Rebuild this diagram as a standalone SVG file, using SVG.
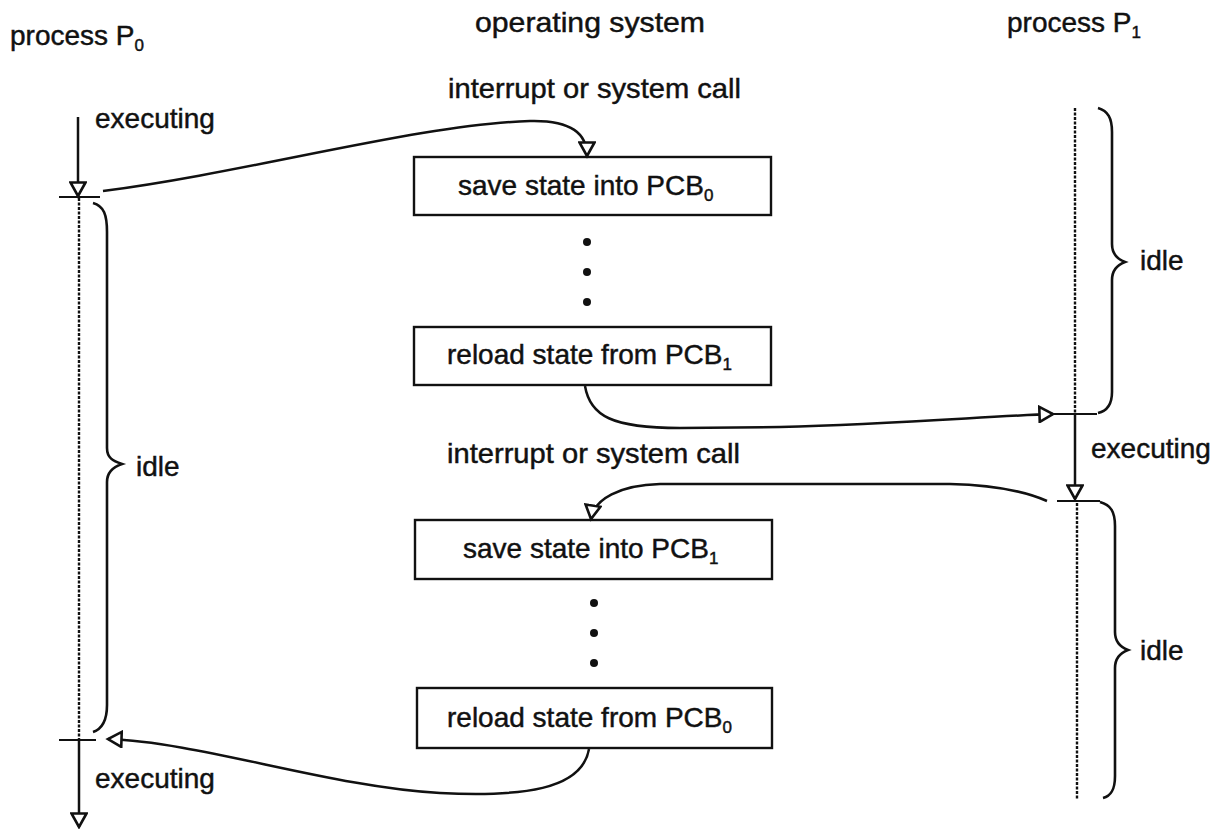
<svg xmlns="http://www.w3.org/2000/svg" width="1220" height="829" viewBox="0 0 1220 829">
  <style>
    text { font-family: "Liberation Sans", Arial, sans-serif; font-size: 28px; fill: #111; stroke: #111; stroke-width: 0.45; }
    .sub { font-size: 17px; }
    .box { fill: #fff; stroke: #111; stroke-width: 2.4; }
    .flow { fill: none; stroke: #111; stroke-width: 2.5; marker-end: url(#head); }
    .timeline { fill: none; stroke: #111; stroke-width: 2.4; stroke-dasharray: 3 1.5; }
    .tick { stroke: #111; stroke-width: 2.2; }
    .brace { fill: none; stroke: #111; stroke-width: 2.6; }
    .dot { fill: #111; }
  </style>
  <defs>
    <marker id="head" markerWidth="18" markerHeight="18" refX="15" refY="9" orient="auto" markerUnits="userSpaceOnUse">
      <path d="M1.5,1.5 L15,9 L1.5,16.5 z" fill="#fff" stroke="#111" stroke-width="2.6" stroke-linejoin="miter"/>
    </marker>
  </defs>

  <rect width="1220" height="829" fill="#fff"/>

  <!-- column headings -->
  <text x="10" y="45">process P<tspan class="sub" dy="6">0</tspan></text>
  <text x="475" y="32" textLength="230" lengthAdjust="spacingAndGlyphs">operating system</text>
  <text x="1007" y="32">process P<tspan class="sub" dy="6">1</tspan></text>

  <!-- process P0 timeline -->
  <g id="p0-timeline">
    <line class="timeline" x1="79" y1="198" x2="79" y2="740"/>
    <line class="tick" x1="59" y1="197" x2="100" y2="197"/>
    <line class="tick" x1="59" y1="740" x2="96" y2="740"/>
    <path class="brace" d="M93,203 C104,206 107,215 107,232 L107,448 C107,458 113,461 122,464 C113,467 107,472 107,482 L107,705 C107,720 102,729 93,732"/>
    <text x="136" y="476">idle</text>
    <text x="95" y="128">executing</text>
    <text x="95" y="788">executing</text>
  </g>

  <!-- process P1 timeline -->
  <g id="p1-timeline">
    <line class="timeline" x1="1075" y1="108" x2="1075" y2="414"/>
    <line class="timeline" x1="1077" y1="503" x2="1077" y2="800"/>
    <line class="tick" x1="1053" y1="414" x2="1097" y2="414"/>
    <line class="tick" x1="1057" y1="501" x2="1100" y2="501"/>
    <path class="brace" d="M1098,108 C1108,111 1112,118 1112,132 L1112,244 C1112,254 1117,259 1125,262 C1117,265 1112,270 1112,280 L1112,392 C1112,405 1107,411 1098,413"/>
    <path class="brace" d="M1100,502 C1111,505 1115,512 1115,526 L1115,632 C1115,642 1120,647 1128,650 C1120,653 1115,658 1115,668 L1115,776 C1115,790 1111,796 1103,798"/>
    <text x="1140" y="270">idle</text>
    <text x="1140" y="660">idle</text>
    <text x="1091" y="458">executing</text>
  </g>

  <!-- operating system steps -->
  <g id="save-pcb0">
    <rect class="box" x="414" y="157" width="357" height="58"/>
    <text x="458" y="195">save state into PCB<tspan class="sub" dy="6">0</tspan></text>
  </g>
  <g id="reload-pcb1">
    <rect class="box" x="414" y="327" width="357" height="58"/>
    <text x="447" y="364">reload state from PCB<tspan class="sub" dy="6">1</tspan></text>
  </g>
  <g id="save-pcb1">
    <rect class="box" x="415" y="520" width="357" height="59"/>
    <text x="463" y="558">save state into PCB<tspan class="sub" dy="6">1</tspan></text>
  </g>
  <g id="reload-pcb0">
    <rect class="box" x="417" y="688" width="355" height="60"/>
    <text x="447" y="727">reload state from PCB<tspan class="sub" dy="6">0</tspan></text>
  </g>

  <g id="ellipsis-dots">
    <circle class="dot" cx="587" cy="242" r="4"/>
    <circle class="dot" cx="587" cy="272" r="4"/>
    <circle class="dot" cx="587" cy="302" r="4"/>
    <circle class="dot" cx="594" cy="603" r="4"/>
    <circle class="dot" cx="594" cy="633" r="4"/>
    <circle class="dot" cx="594" cy="663" r="4"/>
  </g>

  <text x="448" y="98" textLength="293" lengthAdjust="spacingAndGlyphs">interrupt or system call</text>
  <text x="447" y="463" textLength="293" lengthAdjust="spacingAndGlyphs">interrupt or system call</text>

  <!-- control transfers -->
  <g id="connectors">
    <line class="flow" x1="78" y1="117" x2="78" y2="196"/>
    <line class="flow" x1="1075" y1="415" x2="1075" y2="499"/>
    <line class="flow" x1="79" y1="741" x2="79" y2="827"/>
    <path class="flow" d="M103,191 C250,172 420,124 530,121 C572,120 587,134 587,156"/>
    <path class="flow" d="M585,386 C590,416 612,428 680,428 L780,427 C900,424 990,416 1053,414"/>
    <path class="flow" d="M1047,501 C1022,490 992,485 950,484 L660,484 C620,485 594,499 591,519"/>
    <path class="flow" d="M589,749 C582,790 522,797 440,793 C330,787 200,742 108,739"/>
  </g>
</svg>
